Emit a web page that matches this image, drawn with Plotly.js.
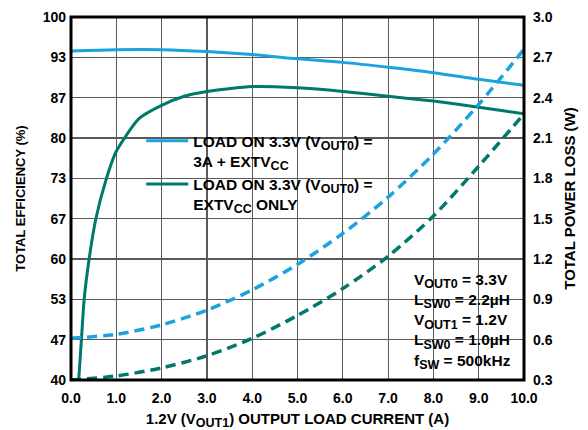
<!DOCTYPE html>
<html>
<head>
<meta charset="utf-8">
<script src="https://cdn.plot.ly/plotly-3.0.1.min.js"></script>
<style>html,body{margin:0;padding:0;background:#fff;}#chart{width:588px;height:430px;}</style>
</head>
<body>
<div id="chart"></div>
<script>
// Load current (A)
const loadCurrent = [0, 1, 2, 3, 4, 5, 6, 7, 8, 9, 10];
const effBlue = [94.4, 94.6, 94.6, 94.3, 93.8, 93.1, 92.5, 91.7, 90.8, 89.7, 88.7];
const lossBlue = [0.61, 0.64, 0.71, 0.82, 0.97, 1.16, 1.39, 1.66, 1.98, 2.35, 2.76];
const lossGreen = [0.30, 0.33, 0.39, 0.48, 0.61, 0.78, 0.98, 1.22, 1.52, 1.89, 2.28];
const greenCurrent = [0.17, 0.23, 0.29, 0.4, 0.55, 0.77, 1.0, 1.5, 2.0, 2.5, 3, 4, 5, 6, 7, 8, 9, 10];
const effGreen = [40, 46.7, 53.3, 60, 66.7, 73, 77.8, 83.2, 85.4, 86.9, 87.7, 88.5, 88.3, 87.7, 86.9, 86.1, 85.1, 84.0];
const effTickLabels = ['40', '47', '53', '60', '67', '73', '80', '87', '93', '100'];

function sub(t) { return '<sub><span style="font-size:12.5px">' + t + '</span></sub>'; }
const legendNames = ['LOAD ON 3.3V (V' + sub('OUT0') + ') =<br>3A + EXTV' + sub('CC'),
                     'LOAD ON 3.3V (V' + sub('OUT0') + ') =<br>EXTV' + sub('CC') + ' ONLY'];
const conditionLines = ['V' + sub('OUT0') + ' = 3.3V', 'L' + sub('SW0') + ' = 2.2µH', 'V' + sub('OUT1') + ' = 1.2V',
                        'L' + sub('SW0') + ' = 1.0µH', 'f' + sub('SW') + ' = 500kHz'];

const BLUE = '#1aa3dc';
const GREEN = '#00786c';
const FAMILY = 'Liberation Sans, Arial, sans-serif';
const FONT = {family: FAMILY, size: 14, color: '#000', weight: 'bold'};
const effTickVals = effTickLabels.map((_, i) => 40 + i * 60 / 9);

const traces = [
  {x: loadCurrent, y: effBlue, name: legendNames[0], mode: 'lines', yaxis: 'y',
   line: {color: BLUE, width: 3, shape: 'spline', smoothing: 0.8}},
  {x: greenCurrent, y: effGreen, name: legendNames[1], mode: 'lines', yaxis: 'y',
   line: {color: GREEN, width: 3, shape: 'spline', smoothing: 0.6}},
  {x: loadCurrent, y: lossBlue, mode: 'lines', yaxis: 'y2', showlegend: false,
   line: {color: BLUE, width: 3.5, dash: '10px,6px', shape: 'spline', smoothing: 0.8}},
  {x: loadCurrent, y: lossGreen, mode: 'lines', yaxis: 'y2', showlegend: false,
   line: {color: GREEN, width: 3.5, dash: '10px,6px', shape: 'spline', smoothing: 0.8}}
];

const layout = {
  width: 588, height: 430,
  margin: {l: 71, r: 64, t: 17, b: 50},
  paper_bgcolor: '#fff', plot_bgcolor: '#fff',
  font: FONT,
  showlegend: true,
  legend: {x: 0.155, y: 0.705, xanchor: 'left', yanchor: 'top', bgcolor: 'rgba(0,0,0,0)',
           font: {family: FAMILY, size: 15.5, color: '#000', weight: 'bold'},
           valign: 'top', itemwidth: 42},
  xaxis: {range: [0, 10], dtick: 1, tickformat: '.1f', showgrid: true, gridcolor: '#5a5a5a', gridwidth: 1.2,
          zeroline: false, ticks: '', showline: false, tickfont: FONT, ticklabelstandoff: 8,
          title: {text: '1.2V (V' + sub('OUT1') + ') OUTPUT LOAD CURRENT (A)',
                  font: {family: FAMILY, size: 15, color: '#000', weight: 'bold'}, standoff: 10}},
  yaxis: {range: [40, 100], tickvals: effTickVals, ticktext: effTickLabels, showgrid: true,
          gridcolor: '#5a5a5a', gridwidth: 1.2, zeroline: false, ticks: '', tickfont: FONT, ticklabelstandoff: 4,
          title: {text: 'TOTAL EFFICIENCY (%)', font: {family: FAMILY, size: 13, color: '#000', weight: 'bold'}, standoff: 14}},
  yaxis2: {range: [0.3, 3.0], dtick: 0.3, tickformat: '.1f', overlaying: 'y', side: 'right',
           showgrid: false, zeroline: false, ticks: '', tickfont: FONT, ticklabelstandoff: 8,
           title: {text: 'TOTAL POWER LOSS (W)', font: {family: FAMILY, size: 15, color: '#000', weight: 'bold'}, standoff: 12}},
  shapes: [
    {type: 'rect', xref: 'paper', yref: 'paper', x0: 0.146, x1: 0.715, y0: 0.445, y1: 0.70,
     fillcolor: '#fff', line: {width: 0}, layer: 'between'},
    {type: 'rect', xref: 'paper', yref: 'paper', x0: 0.745, x1: 1, y0: 0.012, y1: 0.315,
     fillcolor: '#fff', line: {width: 0}, layer: 'between'},
    {type: 'rect', xref: 'paper', yref: 'paper', x0: 0, x1: 1, y0: 0, y1: 1,
     line: {color: '#000', width: 3}, layer: 'above'}
  ],
  annotations: [
    {xref: 'paper', yref: 'paper', x: 0.752, y: 0.305, xanchor: 'left', yanchor: 'top', align: 'left',
     showarrow: false, text: conditionLines.join('<br>'),
     font: {family: FAMILY, size: 15.5, color: '#000', weight: 'bold'}}
  ]
};

Plotly.newPlot('chart', traces, layout, {displayModeBar: false, staticPlot: true});
</script>
</body>
</html>
